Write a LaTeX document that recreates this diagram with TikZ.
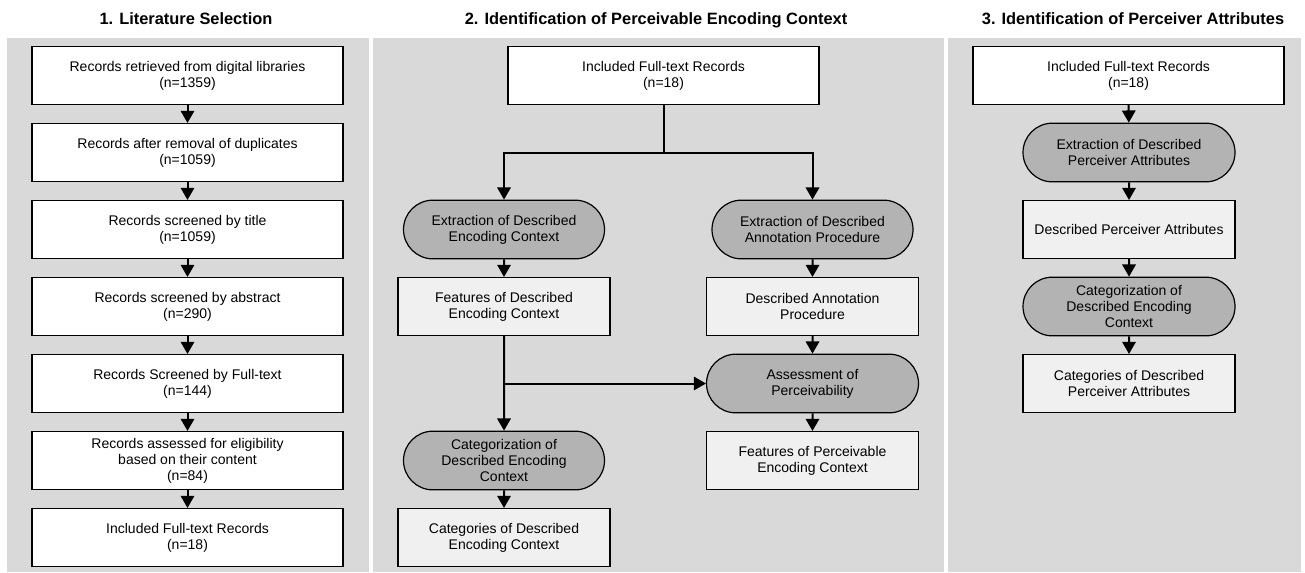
\documentclass[tikz,border=0pt]{standalone}
\usepackage{fontspec}
\setmainfont{Liberation Sans}
\usepackage{xcolor}
\usetikzlibrary{arrows,shapes.misc}

\definecolor{panelgray}{HTML}{D9D9D9}
\definecolor{boxgray}{HTML}{F0F0F0}
\definecolor{stagegray}{HTML}{B3B3B3}

\tikzset{
  panel/.style={fill=panelgray,draw=none},
  title/.style={anchor=base,font=\fontsize{12.3}{14}\selectfont\bfseries},
  record/.style={draw,line width=0.9pt,fill=white,minimum width=233.25pt,minimum height=43.5pt,inner sep=0pt,align=center,font=\fontsize{10.5}{12}\selectfont},
  result/.style={record,fill=boxgray,minimum width=159pt},
  stage/.style={rounded rectangle,draw,line width=0.9pt,fill=stagegray,minimum width=150.75pt,minimum height=44pt,inner sep=0pt,align=center,font=\fontsize{10.5}{12}\selectfont},
  widestage/.style={stage,minimum width=159pt},
  flow/.style={->,>=triangle 60,line width=1.5pt},
  link/.style={line width=1.5pt}
}

\begin{document}
\begin{tikzpicture}[x=0.75pt,y=-0.75pt]
\useasboundingbox (0,0) rectangle (1305,572);

% panels
\fill[panel] (7,38) rectangle (369,572);
\fill[panel] (373,38) rectangle (944,572);
\fill[panel] (948,38) rectangle (1301,572);

\node[title] (h1) at (186,24) {1. Literature Selection};
\node[title] (h2) at (656,24) {2. Identification of Perceivable Encoding Context};
\node[title] (h3) at (1133,24) {3. Identification of Perceiver Attributes};

% 1. literature selection
\node[record] (r1) at (187.5,75.5) {Records retrieved from digital libraries\\(n=1359)};
\node[record] (r2) at (187.5,152.5) {Records after removal of duplicates\\(n=1059)};
\node[record] (r3) at (187.5,229.5) {Records screened by title\\(n=1059)};
\node[record] (r4) at (187.5,306.5) {Records screened by abstract\\(n=290)};
\node[record] (r5) at (187.5,383.5) {Records Screened by Full-text\\(n=144)};
\node[record] (r6) at (187.5,460.5) {Records assessed for eligibility\\based on their content\\(n=84)};
\node[record] (r7) at (187.5,537.5) {Included Full-text Records\\(n=18)};

\draw[flow] (r1) -- (r2);
\draw[flow] (r2) -- (r3);
\draw[flow] (r3) -- (r4);
\draw[flow] (r4) -- (r5);
\draw[flow] (r5) -- (r6);
\draw[flow] (r6) -- (r7);

% 2. perceivable encoding context
\node[record] (t2) at (663.5,75.5) {Included Full-text Records\\(n=18)};
\node[stage] (exenc) at (504,229.5) {Extraction of Described\\Encoding Context};
\node[result] (ftenc) at (504,306.5) {Features of Described\\Encoding Context};
\node[stage] (caenc) at (504,460.5) {Categorization of\\Described Encoding\\Context};
\node[result] (cgenc) at (504,537.5) {Categories of Described\\Encoding Context};
\node[stage] (exann) at (812.5,229.5) {Extraction of Described\\Annotation Procedure};
\node[result] (dsann) at (812.5,306.5) {Described Annotation\\Procedure};
\node[widestage] (assess) at (812.5,383.5) {Assessment of\\Perceivability};
\node[result] (ftperc) at (812.5,460.5) {Features of Perceivable\\Encoding Context};

\coordinate (split) at (663.5,152.5);
\coordinate (fork) at (504,383.5);

\draw[link] (t2) -- (split);
\draw[flow] (split) -| (exenc);
\draw[flow] (split) -| (exann);
\draw[flow] (exenc) -- (ftenc);
\draw[flow] (ftenc) -- (caenc);
\draw[flow] (fork) -- (assess);
\draw[flow] (caenc) -- (cgenc);
\draw[flow] (exann) -- (dsann);
\draw[flow] (dsann) -- (assess);
\draw[flow] (assess) -- (ftperc);

% 3. perceiver attributes
\node[record] (t3) at (1128.5,75.5) {Included Full-text Records\\(n=18)};
\node[widestage] (expa) at (1129,152.5) {Extraction of Described\\Perceiver Attributes};
\node[result] (dspa) at (1129,229.5) {Described Perceiver Attributes};
\node[widestage] (capa) at (1129,306.5) {Categorization of\\Described Encoding\\Context};
\node[result] (cgpa) at (1129,383.5) {Categories of Described\\Perceiver Attributes};

\draw[flow] (t3) -- (expa);
\draw[flow] (expa) -- (dspa);
\draw[flow] (dspa) -- (capa);
\draw[flow] (capa) -- (cgpa);
\end{tikzpicture}
\end{document}
